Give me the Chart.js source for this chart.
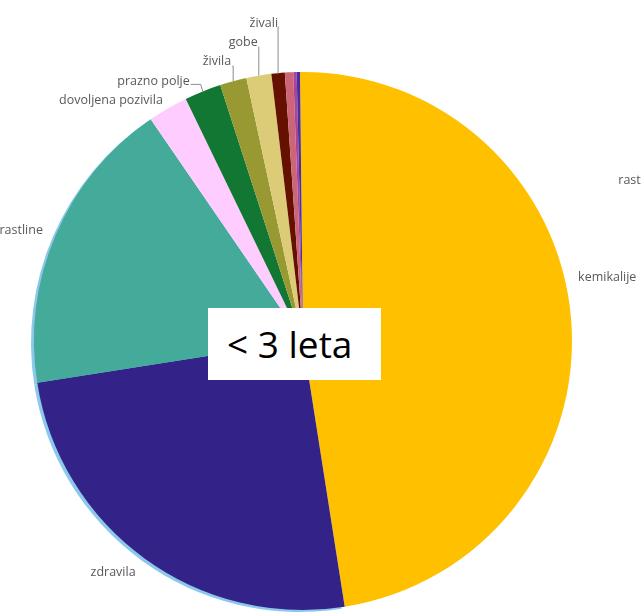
<!DOCTYPE html>
<html>
<head>
<meta charset="utf-8">
<script src="https://cdn.jsdelivr.net/npm/chart.js@4.4.1/dist/chart.umd.min.js"></script>
<style>
  html, body { margin: 0; padding: 0; background: #ffffff; }
  #wrap { position: relative; width: 641px; height: 613px; overflow: hidden; }
  #c { position: absolute; left: 0; top: 0; }
  #box {
    position: absolute; left: 208px; top: 308px; width: 173px; height: 72px;
    background: #ffffff; box-sizing: border-box; padding-left: 19px;
    font-family: "Open Sans", sans-serif; font-size: 37px; line-height: 72px; color: #000000;
    white-space: nowrap;
  }
</style>
</head>
<body>
<div id="wrap">
  <canvas id="c" width="641" height="613"></canvas>
  <div id="box">&lt; 3 leta</div>
</div>
<script>
// ---- data ----
const categories = ['kemikalije', 'zdravila', 'rastline', 'dovoljena pozivila', 'prazno polje', 'živila', 'gobe', 'živali', 'ostalo', 'drugo', 'rast'];
const values = [47.7, 25.0, 17.9, 2.4, 2.2, 1.6, 1.5, 0.8, 0.5, 0.2, 0.2];
const shownLabels = ['kemikalije', 'zdravila', 'rastline', 'dovoljena pozivila', 'prazno polje', 'živila', 'gobe', 'živali', null, null, 'rast'];

// ---- styles ----
const colors = ['#FFC000', '#332288', '#44AA99', '#FFCCFF', '#117733', '#999933', '#DDCC77', '#661100', '#CC6677', '#AA4499', '#4B2FA0'];
// label placement relative to the rim point at each slice's mid angle
const labelLayout = [
  { dx: 7,   dy: -41.5, align: 'left' },
  { dx: -9,  dy: 14,    align: 'right' },
  { dx: -13, dy: -4,    align: 'right' },
  { dx: -5,  dy: -8,    align: 'right' },
  { dx: -13, dy: -9.6,  align: 'right', leader: [-2, -7] },
  { dx: -2,  dy: -19.3, align: 'right', leader: [0, -15] },
  { dx: -1,  dy: -33,   align: 'right', leader: [0, -29] },
  { dx: 0,   dy: -50,   align: 'right', leader: [0, -46] },
  null,
  null,
  { dx: 320, dy: 108,   align: 'left' }
];

const edgePlugin = {
  id: 'edgeShadow',
  beforeDatasetsDraw(chart) {
    const ctx = chart.ctx;
    const meta = chart.getDatasetMeta(0);
    ctx.save();
    ctx.fillStyle = '#8CC8EC';
    [1, 2].forEach(i => {
      const a = meta.data[i];
      if (!a) return;
      const p = a.getProps(['x', 'y', 'outerRadius', 'startAngle', 'endAngle'], true);
      const cx = p.x - 3, cy = p.y + 2;
      ctx.beginPath();
      ctx.moveTo(cx, cy);
      ctx.arc(cx, cy, p.outerRadius, p.startAngle, p.endAngle);
      ctx.closePath();
      ctx.fill();
    });
    ctx.restore();
  }
};

const labelPlugin = {
  id: 'sliceLabels',
  afterDatasetsDraw(chart) {
    const ctx = chart.ctx;
    const meta = chart.getDatasetMeta(0);
    ctx.save();
    ctx.font = '12.5px "Open Sans", sans-serif';
    ctx.fillStyle = '#595959';
    ctx.textBaseline = 'middle';
    meta.data.forEach((arc, i) => {
      const L = labelLayout[i];
      const text = shownLabels[i];
      if (!L || !text) return;
      const p = arc.getProps(['x', 'y', 'outerRadius', 'startAngle', 'endAngle'], true);
      const mid = (p.startAngle + p.endAngle) / 2;
      const rx = p.x + Math.cos(mid) * p.outerRadius;
      const ry = p.y + Math.sin(mid) * p.outerRadius;
      const tx = rx + L.dx, ty = ry + L.dy;
      if (L.leader) {
        ctx.strokeStyle = '#8C8C8C';
        ctx.lineWidth = 1;
        const ex = rx + L.leader[0], ey = ry + L.leader[1];
        ctx.beginPath();
        ctx.moveTo(rx, ry);
        ctx.lineTo(ex, ey);
        ctx.lineTo(tx + 1, ey);
        ctx.stroke();
      }
      ctx.textAlign = L.align;
      ctx.fillText(text, tx, ty);
    });
    ctx.restore();
  }
};

new Chart(document.getElementById('c'), {
  type: 'pie',
  data: {
    labels: categories,
    datasets: [{
      data: values,
      backgroundColor: colors,
      borderWidth: 0,
      hoverOffset: 0,
      offset: 0
    }]
  },
  options: {
    responsive: false,
    animation: false,
    devicePixelRatio: 1,
    events: [],
    rotation: -0.64,
    layout: { padding: { top: 72, bottom: 3, left: 34, right: 69 } },
    plugins: {
      legend: { display: false },
      tooltip: { enabled: false },
      title: { display: false }
    }
  },
  plugins: [edgePlugin, labelPlugin]
});
</script>
</body>
</html>
